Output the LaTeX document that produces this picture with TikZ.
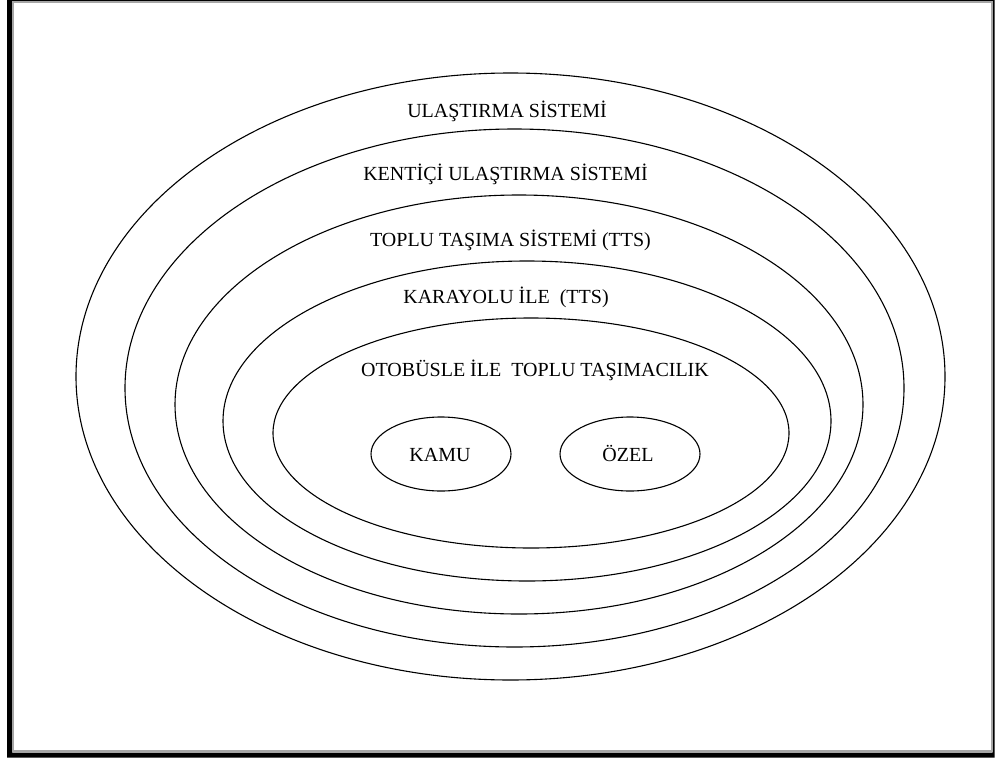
\documentclass[tikz,border=0pt]{standalone}
\usepackage{fontspec}
\setmainfont{Liberation Serif}
\usetikzlibrary{shapes.geometric}
\begin{document}
\begin{tikzpicture}[x=1pt,y=-1pt,
  ring/.style={draw=black, ellipse, line width=1.1pt, inner sep=0pt, outer sep=0pt},
  lbl/.style={anchor=base, inner sep=0pt, font=\fontsize{20}{24}\selectfont}]
\useasboundingbox (0,0) rectangle (995,760);

% page frame: black shadowed outline with grey inner rule
\fill[black, even odd rule] (7,0) rectangle (994.5,757.5) (12,1.5) rectangle (992.5,752.5);
\draw[gray!70, line width=2pt] (13,2.5) rectangle (991.5,750.5);

% nested system ellipses
\node[ring, minimum width=869, minimum height=607] (e1) at (510.5,376.5) {};
\node[ring, minimum width=779, minimum height=518] (e2) at (514.5,388) {};
\node[ring, minimum width=688, minimum height=419] (e3) at (519,404.5) {};
\node[ring, minimum width=608, minimum height=320] (e4) at (527,421) {};
\node[ring, minimum width=516, minimum height=230] (e5) at (531,433) {};

% public / private operators
\node[ring, minimum width=140, minimum height=74] (kamu) at (441,454) {};
\node[ring, minimum width=140, minimum height=74] (ozel) at (630,454) {};

% labels
\node[lbl] (t1) at (507,117) {ULAŞTIRMA SİSTEMİ};
\node[lbl] (t2) at (505.5,180.7) {KENTİÇİ ULAŞTIRMA SİSTEMİ};
\node[lbl] (t3) at (510.5,246.7) {TOPLU TAŞIMA SİSTEMİ (TTS)};
\node[lbl] (t4) at (506,303) {KARAYOLU İLE\ \ (TTS)};
\node[lbl] (t5) at (535,376) {OTOBÜSLE İLE\ \ TOPLU TAŞIMACILIK};
\node[lbl] (t6) at (440,461.7) {KAMU};
\node[lbl] (t7) at (628,461.7) {ÖZEL};
\end{tikzpicture}
\end{document}
